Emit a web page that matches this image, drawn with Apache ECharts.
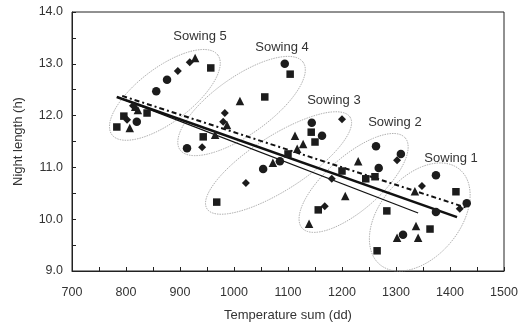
<!DOCTYPE html>
<html><head><meta charset="utf-8">
<script src="https://cdn.jsdelivr.net/npm/echarts@6/dist/echarts.min.js"></script>
<style>html,body{margin:0;padding:0;background:#fff}#c{width:530px;height:329px}</style>
</head><body><div id="c"></div>
<script>
// Scatter data [temperature sum (dd), night length (h)]
const circles = [[820,11.88],[856,12.47],[876,12.69],[913,11.37],[1094,13.00],[1054,10.97],[1085,11.12],[1144,11.86],[1163,11.61],[1263,11.41],[1309,11.26],[1268,10.99],[1374,10.85],[1374,10.14],[1431,10.31],[1313,9.70]];
const squares = [[783,11.78],[796,11.99],[839,12.05],[957,12.92],[943,11.59],[1057,12.36],[1104,12.80],[968,10.33],[1143,11.68],[1150,11.49],[1100,11.26],[1244,10.78],[1261,10.82],[1156,10.18],[1283,10.16],[1411,10.53],[1363,9.81],[1265,9.39],[1200,10.93]];
const triangles = [[928,13.11],[817,12.17],[822,12.11],[807,11.76],[1011,12.28],[965,11.63],[987,11.82],[1072,11.09],[1113,11.61],[1128,11.45],[1117,11.36],[1230,11.12],[1206,10.45],[1139,9.91],[1335,10.54],[1337,9.87],[1302,9.64],[1341,9.64]];
const diamonds = [[918,13.03],[896,12.86],[802,11.92],[813,12.19],[983,12.05],[980,11.88],[941,11.39],[1022,10.70],[1200,11.93],[1181,10.78],[1302,11.14],[1168,10.25],[1348,10.64],[1418,10.20]];
// Regression lines (end points)
const lineThick = [[783,12.36],[1413,10.04]];
const lineThin = [[783,12.36],[1341,10.12]];
const lineDash = [[793,12.38],[1431,10.22]];
// Sowing groups: ellipse major-axis ends [x1,y1,x2,y2,minor/major ratio]
const ellipses = [[774,11.63,970,13.17,0.41],[900,11.34,1128,13.03,0.38],[950,10.20,1215,11.97,0.32],[1126,9.83,1317,11.57,0.395],[1270,9.125,1418,10.96,0.645]];
const sowingLabels = [['Sowing 5',937,13.52],['Sowing 4',1089,13.32],['Sowing 3',1185,12.30],['Sowing 2',1298,11.86],['Sowing 1',1402,11.18]];

const FONT = '"Liberation Sans", Arial, sans-serif';
const chart = echarts.init(document.getElementById('c'), null, {renderer:'canvas'});
const mk = '#1c1c1c';
function sc(name, data, symbol, size){
  return {type:'scatter', name, data, symbol, symbolSize:size, itemStyle:{color:mk, opacity:1}, z:5, silent:true};
}
chart.setOption({
  animation:false,
  grid:{left:72, right:26, top:12, bottom:58, show:true, borderColor:'#222', borderWidth:1},
  xAxis:{type:'value', min:700, max:1500, interval:50,
    name:'Temperature sum (dd)', nameLocation:'middle', nameGap:38,
    nameTextStyle:{fontFamily:FONT, fontSize:13, color:'#333'},
    axisLine:{lineStyle:{color:'#222', width:1}},
    axisTick:{inside:true, length:4, lineStyle:{color:'#222'}},
    axisLabel:{margin:15, fontFamily:FONT, fontSize:12.5, color:'#333', formatter:v=> v%100===0? String(v):''},
    splitLine:{show:false}},
  yAxis:{type:'value', min:9, max:14, interval:0.5,
    name:'Night length (h)', nameLocation:'middle', nameGap:47,
    nameTextStyle:{fontFamily:FONT, fontSize:13, color:'#333'},
    axisLine:{show:true, lineStyle:{color:'#222', width:1}},
    axisTick:{show:true, inside:true, length:4, lineStyle:{color:'#222'}},
    axisLabel:{margin:9, fontFamily:FONT, fontSize:12.5, color:'#333', formatter:v=> Math.abs(v%1)<1e-9? v.toFixed(1):''},
    splitLine:{show:false}},
  series:[
    {type:'custom', name:'ellipses', data:ellipses, encode:{x:[0,2], y:[1,3]}, z:1, silent:true,
      renderItem:function(params, api){
        const p1 = api.coord([api.value(0), api.value(1)]);
        const p2 = api.coord([api.value(2), api.value(3)]);
        const cx=(p1[0]+p2[0])/2, cy=(p1[1]+p2[1])/2;
        const a=Math.hypot(p2[0]-p1[0], p2[1]-p1[1])/2;
        const b=a*api.value(4);
        const ang=Math.atan2(p2[1]-p1[1], p2[0]-p1[0]);
        const pts=[];
        for(let i=0;i<160;i++){
          const t=i/160*Math.PI*2;
          const ex=a*Math.cos(t), ey=b*Math.sin(t);
          pts.push([cx+ex*Math.cos(ang)-ey*Math.sin(ang), cy+ex*Math.sin(ang)+ey*Math.cos(ang)]);
        }
        return {type:'polygon', shape:{points:pts}, style:{fill:null, stroke:'#9a9a9a', lineWidth:0.8, lineDash:[1.5,1]}};
      }},
    {type:'custom', name:'labels', data:sowingLabels.map(d=>[d[1],d[2],d[0]]), encode:{x:0,y:1}, z:6, silent:true,
      renderItem:function(params, api){
        const p = api.coord([api.value(0), api.value(1)]);
        const d = sowingLabels[params.dataIndex];
        return {type:'text', x:p[0], y:p[1], style:{text:d[0], fill:'#333', font:'13px '+FONT, textAlign:'center', textVerticalAlign:'middle'}};
      }},
    sc('circles', circles, 'circle', 8.5),
    sc('squares', squares, 'rect', 7.5),
    sc('triangles', triangles, 'triangle', 8.5),
    sc('diamonds', diamonds, 'diamond', 8),
    {type:'line', name:'thick', data:lineThick, symbol:'none', z:4, silent:true, lineStyle:{color:'#111', width:2.6}},
    {type:'line', name:'thin', data:lineThin, symbol:'none', z:4, silent:true, lineStyle:{color:'#111', width:1.3}},
    {type:'line', name:'dash', data:lineDash, symbol:'none', z:4, silent:true, lineStyle:{color:'#111', width:2, type:[5,3,2,3]}}
  ]
});
</script></body></html>
